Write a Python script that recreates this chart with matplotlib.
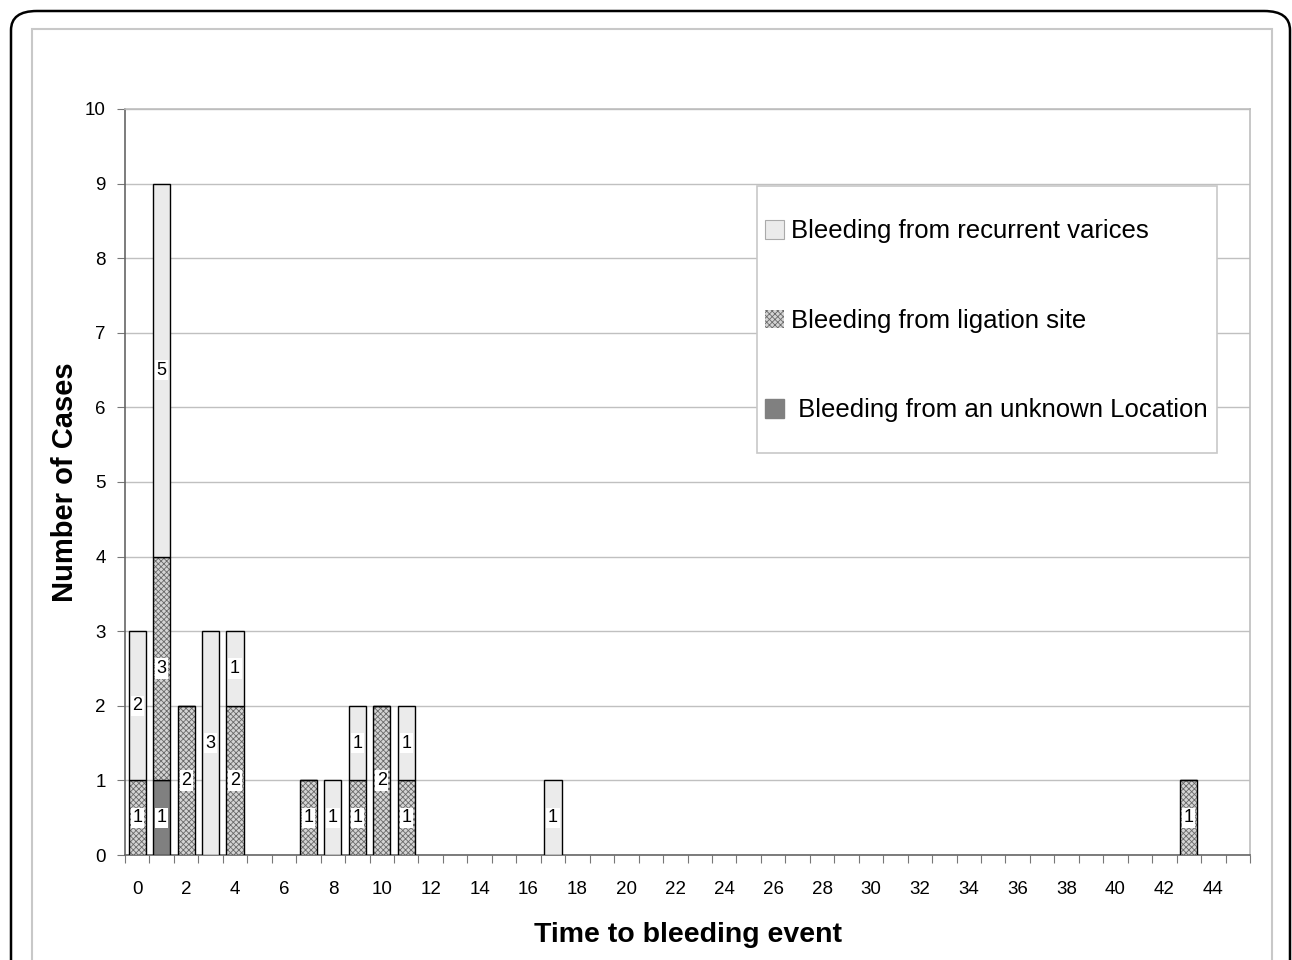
import matplotlib.pyplot as plt
import numpy as np
from matplotlib.patches import FancyBboxPatch, Rectangle, Patch

plt.rcParams['font.family'] = ['Liberation Sans', 'DejaVu Sans']
plt.rcParams['hatch.linewidth'] = 0.6

# time to bleeding event (days) and number of cases per type
days = [0, 1, 2, 3, 4, 7, 8, 9, 10, 11, 17, 43]
unknown = [0, 1, 0, 0, 0, 0, 0, 0, 0, 0, 0, 0]
ligation = [1, 3, 2, 0, 2, 1, 0, 1, 2, 1, 0, 1]
recurrent = [2, 5, 0, 3, 1, 0, 1, 1, 0, 1, 1, 0]

fig = plt.figure(figsize=(12.92, 9.6), dpi=100)

# outer rounded frame and inner grey frame
fig.patches.append(FancyBboxPatch((11/1292, -0.05), 1279/1292, 1 - 11/960 + 0.05,
                                  boxstyle='round,pad=0,rounding_size=0.02',
                                  transform=fig.transFigure, fill=False,
                                  edgecolor='black', linewidth=1.8))
fig.patches.append(Rectangle((32/1292, -0.05), 1240/1292, 1 - 29/960 + 0.05,
                             transform=fig.transFigure, fill=False,
                             edgecolor='#c8c8c8', linewidth=1.5))

ax = fig.add_axes([125/1292, 105/960, 1125/1292, 746/960])

x = np.array(days)
w = 0.7
b_unk = np.zeros(len(x))
b_lig = b_unk + np.array(unknown)
b_rec = b_lig + np.array(ligation)

ax.bar(x, unknown, w, color='#808080', edgecolor='black', linewidth=1, zorder=3)
ax.bar(x, ligation, w, bottom=b_lig, color='#d4d4d4', edgecolor='#6a6a6a',
       hatch='xxxxxx', linewidth=0, zorder=3)
ax.bar(x, ligation, w, bottom=b_lig, fill=False, edgecolor='black', linewidth=1, zorder=3)
ax.bar(x, recurrent, w, bottom=b_rec, color='#ebebeb', edgecolor='black', linewidth=1, zorder=3)

def put_labels(vals, bottoms):
    for xi, v, b in zip(x, vals, bottoms):
        if v > 0:
            ax.text(xi, b + v / 2, str(v), ha='center', va='center', fontsize=13,
                    zorder=5, bbox=dict(facecolor='white', edgecolor='none', pad=1.2))

put_labels(unknown, b_unk)
put_labels(ligation, b_lig)
put_labels(recurrent, b_rec)

ax.set_xlim(-0.5, 45.5)
ax.set_ylim(0, 10)
ax.set_yticks(range(0, 11))
ax.yaxis.grid(True, color='#c0c0c0', linewidth=1)
ax.set_axisbelow(True)

ax.set_xticks(np.arange(-0.5, 46, 1))
ax.set_xticklabels([])
ax.set_xticks(np.arange(0, 45, 2), minor=True)
ax.set_xticklabels([str(v) for v in range(0, 45, 2)], minor=True)
ax.tick_params(axis='x', which='major', length=6, color='#777777')
ax.tick_params(axis='x', which='minor', length=0, pad=19, labelsize=13.5)
ax.tick_params(axis='y', length=6, color='#777777', pad=8, labelsize=13.5)

for s in ['top', 'right']:
    ax.spines[s].set_color('#bdbdbd')
    ax.spines[s].set_linewidth(1.2)
for s in ['left', 'bottom']:
    ax.spines[s].set_color('#666666')
    ax.spines[s].set_linewidth(1.2)

ax.set_xlabel('Time to bleeding event', fontsize=20.5, fontweight='bold', labelpad=17)
ax.set_ylabel('Number of Cases', fontsize=21, fontweight='bold', labelpad=4)

# legend box drawn separately, entries placed inside it
ax.add_patch(Rectangle((0.5618, 0.5389), 0.4089, 0.3579, transform=ax.transAxes,
                       facecolor='white', edgecolor='#c8c8c8', linewidth=1.2, zorder=6))
handles = [Patch(facecolor='#ebebeb', edgecolor='#aaaaaa', linewidth=0.8),
           Patch(facecolor='#d4d4d4', edgecolor='#6a6a6a', hatch='xxxxxx', linewidth=0),
           Patch(facecolor='#808080', edgecolor='#808080')]
labels = ['Bleeding from recurrent varices', 'Bleeding from ligation site',
          ' Bleeding from an unknown Location']
leg = ax.legend(handles, labels, loc='upper left', bbox_to_anchor=(0.5689, 0.852),
                fontsize=18.5, frameon=False, handlelength=0.75, handleheight=0.75,
                handletextpad=0.25, labelspacing=2.55, borderpad=0, borderaxespad=0)
leg.set_zorder(7)

plt.savefig('out.png', dpi=100)
